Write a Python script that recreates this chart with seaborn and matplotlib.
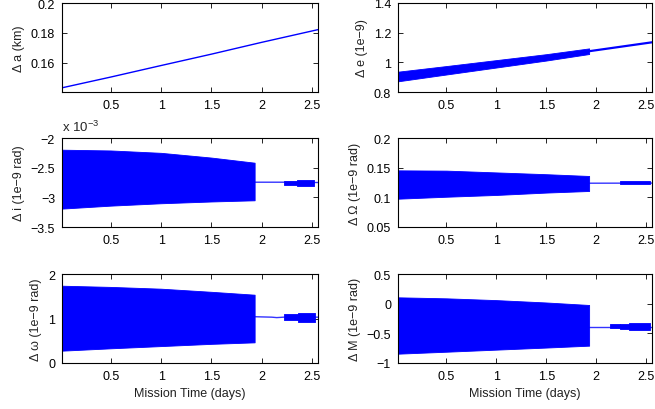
import numpy as np
import pandas as pd
import matplotlib
matplotlib.use("Agg")
import matplotlib.pyplot as plt
import seaborn as sns

# ---------------- data ----------------
band_x = [0.015, 0.5, 1.0, 1.5, 1.93]           # days, envelope sample positions

# Delta a (km): straight line
da_x = [0.015, 0.5, 1.0, 1.5, 2.0, 2.56]
da_y = [0.1433, 0.1505, 0.1582, 0.1658, 0.1737, 0.1822]

# Delta e (1e-9)
de_upper = [0.937, 0.975, 1.015, 1.055, 1.094]
de_lower = [0.872, 0.918, 0.965, 1.012, 1.056]
de_tail_x = [1.93, 2.56]
de_tail_y = [1.075, 1.135]

# Delta i (1e-9 rad, shown as x 10^-3)
di_upper = [-2.197, -2.21, -2.25, -2.33, -2.416]
di_lower = [-3.19, -3.14, -3.10, -3.07, -3.05]
di_tail_x = [1.93, 2.22, 2.35, 2.52, 2.56]
di_tail_y = [-2.745, -2.745, -2.75, -2.75, -2.75]
di_bursts_x = [[2.22, 2.35], [2.35, 2.52]]
di_bursts_up = [-2.72, -2.70]
di_bursts_lo = [-2.79, -2.81]

# Delta Omega (1e-9 rad)
dO_upper = [0.1455, 0.145, 0.142, 0.139, 0.136]
dO_lower = [0.0977, 0.101, 0.104, 0.108, 0.1107]
dO_tail_x = [1.93, 2.56]
dO_tail_y = [0.1238, 0.1240]
dO_bursts_x = [[2.24, 2.54]]
dO_bursts_up = [0.1275]
dO_bursts_lo = [0.1218]

# Delta omega (1e-9 rad)
dw_upper = [1.737, 1.71, 1.67, 1.60, 1.535]
dw_lower = [0.277, 0.33, 0.38, 0.43, 0.464]
dw_tail_x = [1.93, 2.10, 2.15, 2.22, 2.53, 2.56]
dw_tail_y = [1.04, 1.03, 1.02, 1.03, 1.03, 1.03]
dw_bursts_x = [[2.22, 2.36], [2.36, 2.53]]
dw_bursts_up = [1.10, 1.13]
dw_bursts_lo = [0.97, 0.93]

# Delta M (1e-9 rad)
dM_upper = [0.107, 0.09, 0.06, 0.02, -0.022]
dM_lower = [-0.843, -0.81, -0.775, -0.74, -0.708]
dM_tail_x = [1.93, 2.56]
dM_tail_y = [-0.385, -0.385]
dM_bursts_x = [[2.14, 2.24], [2.24, 2.33], [2.33, 2.54]]
dM_bursts_up = [-0.35, -0.34, -0.33]
dM_bursts_lo = [-0.41, -0.42, -0.44]

x_ticks = [0.5, 1, 1.5, 2, 2.5]
ylabels = ["\u0394 a (km)", "\u0394 e (1e\u22129)", "\u0394 i (1e\u22129 rad)",
           "\u0394 \u03a9 (1e\u22129 rad)", "\u0394 \u03c9 (1e\u22129 rad)",
           "\u0394 M (1e\u22129 rad)"]
yticks = [[0.16, 0.18, 0.2], [0.8, 1, 1.2, 1.4], [-3.5, -3, -2.5, -2],
          [0.05, 0.1, 0.15, 0.2], [0, 1, 2], [-1, -0.5, 0, 0.5]]
ylims = [(0.1405, 0.2), (0.8, 1.4), (-3.5, -2), (0.05, 0.2), (0, 2), (-1, 0.5)]
xlabel = "Mission Time (days)"
offset_label = "x 10$^{\u22123}$"

# ---------------- style ----------------
sns.set_theme(style="ticks")
plt.rcParams["font.family"] = ["Liberation Sans", "DejaVu Sans"]
plt.rcParams["mathtext.fontset"] = "custom"
plt.rcParams["mathtext.rm"] = "Liberation Sans"
plt.rcParams["mathtext.it"] = "Liberation Sans"
plt.rcParams["font.size"] = 9
plt.rcParams["axes.unicode_minus"] = True

BLUE = (0, 0, 1)
W, H = 655, 410
fig = plt.figure(figsize=(W / 100, H / 100), dpi=100)

cols = [(62, 318), (398, 652)]
rows = [(4, 93), (139, 228), (275, 364)]
axes = []
for r in rows:
    for c in cols:
        ax = fig.add_axes([c[0] / W, 1 - r[1] / H, (c[1] - c[0]) / W, (r[1] - r[0]) / H])
        axes.append(ax)

def fmt(v):
    s = "%g" % v
    return s.replace("-", "\u2212")

def band(ax, upper, lower):
    ax.fill_between(band_x, lower, upper, color=BLUE, lw=0.6, edgecolor=BLUE)

def line(ax, x, y, lw=1.0, alpha=1.0):
    sns.lineplot(x=x, y=y, ax=ax, color=BLUE, lw=lw, alpha=alpha, estimator=None, sort=False)

def bursts(ax, xs, ups, los):
    for xx, u, l in zip(xs, ups, los):
        ax.fill_between(xx, [l, l], [u, u], color=BLUE, lw=0.6, edgecolor=BLUE)

# panel 1: Delta a
line(axes[0], da_x, da_y, lw=1.0)
# panel 2: Delta e
band(axes[1], de_upper, de_lower)
line(axes[1], de_tail_x, de_tail_y, lw=1.6)
# panel 3: Delta i
band(axes[2], di_upper, di_lower)
line(axes[2], di_tail_x, di_tail_y, lw=1.0, alpha=0.8)
bursts(axes[2], di_bursts_x, di_bursts_up, di_bursts_lo)
# panel 4: Delta Omega
band(axes[3], dO_upper, dO_lower)
line(axes[3], dO_tail_x, dO_tail_y, lw=1.0, alpha=0.8)
bursts(axes[3], dO_bursts_x, dO_bursts_up, dO_bursts_lo)
# panel 5: Delta omega
band(axes[4], dw_upper, dw_lower)
line(axes[4], dw_tail_x, dw_tail_y, lw=1.0, alpha=0.8)
bursts(axes[4], dw_bursts_x, dw_bursts_up, dw_bursts_lo)
# panel 6: Delta M
band(axes[5], dM_upper, dM_lower)
line(axes[5], dM_tail_x, dM_tail_y, lw=1.0, alpha=0.8)
bursts(axes[5], dM_bursts_x, dM_bursts_up, dM_bursts_lo)

for i, ax in enumerate(axes):
    ax.set_xlim(0.015, 2.56)
    ax.set_ylim(*ylims[i])
    ax.set_xticks(x_ticks)
    ax.set_xticklabels([fmt(v) for v in x_ticks])
    ax.set_yticks(yticks[i])
    ax.set_yticklabels([fmt(v) for v in yticks[i]])
    ax.tick_params(direction="in", top=True, right=True, length=3.5, width=0.6,
                   pad=5, labelsize=9, colors="black")
    for s in ax.spines.values():
        s.set_visible(True)
        s.set_linewidth(0.8)
        s.set_color("black")
    ax.set_ylabel(ylabels[i], fontsize=9, labelpad=4, color="#222222")
    ax.set_xlabel("")
    ax.grid(False)
    ax.set_facecolor("white")
    if i >= 4:
        ax.set_xlabel(xlabel, fontsize=9, labelpad=3.5, color="#222222")

axes[2].text(0.0, 1.04, offset_label, transform=axes[2].transAxes,
             ha="left", va="bottom", fontsize=9.5)

fig.savefig("out.png", dpi=100, facecolor="white")
